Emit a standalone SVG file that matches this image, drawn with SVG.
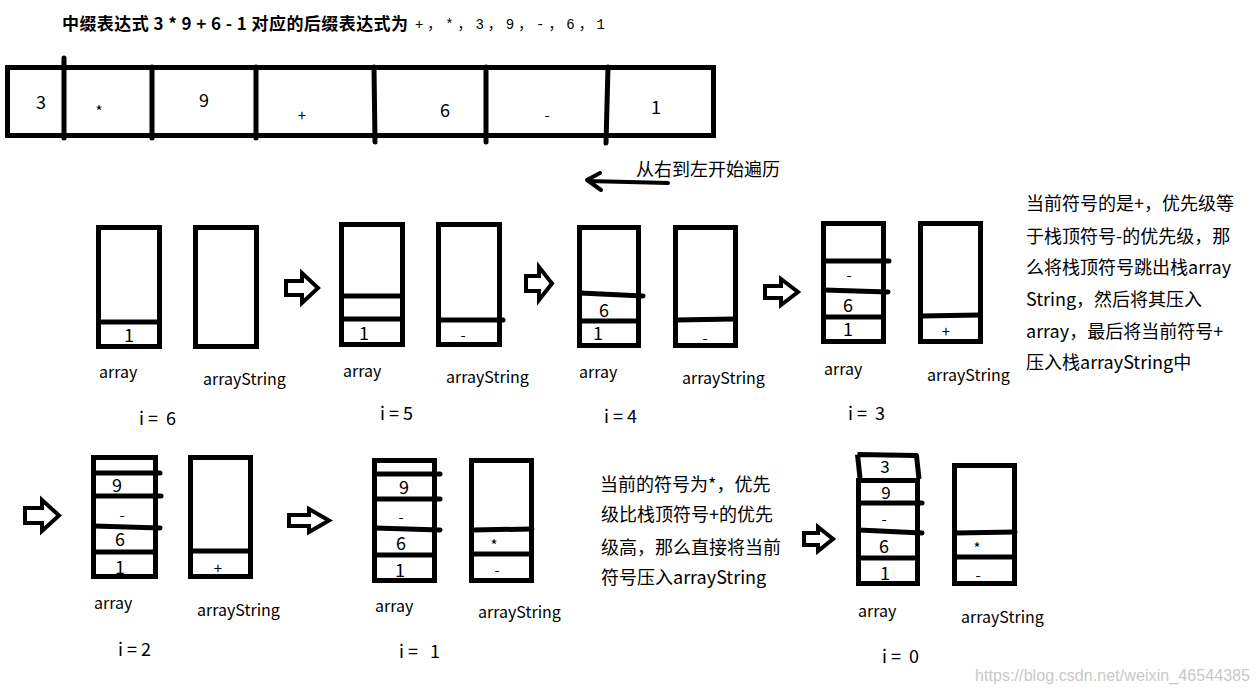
<svg xmlns="http://www.w3.org/2000/svg" width="1257" height="691" viewBox="0 0 1257 691">
<style>
.b{fill:none;stroke:#000;stroke-width:5}
.l{stroke:#000;stroke-width:5;stroke-linecap:round}
.ha{fill:#fff;stroke:#000;stroke-width:4;stroke-linejoin:miter}
text{font-family:"Noto Sans CJK SC","Microsoft YaHei",sans-serif;fill:#000}
.n{font-size:18px;text-anchor:middle}
.o{font-size:15px;text-anchor:middle}
.lb{font-size:16px}
.i{font-size:18px;white-space:pre}
.cn{font-size:18px}
</style>
<rect width="1257" height="691" fill="#fff"/>
<g id="title">
<text x="62" y="30" style="font-size:17px;font-weight:bold;white-space:pre" textLength="346" lengthAdjust="spacing">中缀表达式 3 * 9 + 6 - 1 对应的后缀表达式为</text>
<text x="415" y="29" style="font-size:14px;font-family:'Liberation Mono','Noto Sans CJK SC',monospace" textLength="190">+，*，3，9，-，6，1</text>
</g>
<g id="infix-array">
<rect class="b" x="7.5" y="67.5" width="706" height="68"/>
<line class="l" x1="64" y1="58" x2="64" y2="138"/>
<line class="l" x1="152" y1="67" x2="152" y2="138"/>
<line class="l" x1="256" y1="67" x2="256" y2="138"/>
<line class="l" x1="374" y1="67" x2="375" y2="142"/>
<line class="l" x1="486" y1="67" x2="486" y2="142"/>
<line class="l" x1="608" y1="67" x2="606" y2="143"/>
<text class="n" x="41" y="109">3</text>
<text class="o" x="99" y="117">*</text>
<text class="n" x="204" y="107">9</text>
<text class="o" x="302" y="121">+</text>
<text class="n" x="445" y="117">6</text>
<text class="o" x="547" y="121">-</text>
<text class="n" x="656" y="114">1</text>
</g>
<g id="direction-note">
<text class="cn" x="636" y="176">从右到左开始遍历</text>
</g>
<g id="connectors">
<path d="M668,183 L588,181 M600,173 L587,180 L601,190" fill="none" stroke="#000" stroke-width="4" stroke-linecap="round" stroke-linejoin="round"/>
<path class="ha" d="M286,281 H302 V273 L318,288 L302,303 V295 H286 Z"/>
<path class="ha" d="M526,276 H539 V267 L552,283.5 L539,300 V291 H526 Z"/>
<path class="ha" d="M765,286 H781 V279 L798,292 L781,305 V298 H765 Z"/>
<path class="ha" d="M25,508 H42 V500 L59,515.5 L42,531 V523 H25 Z"/>
<path class="ha" d="M289,515 H309 V509 L329,520.5 L309,532 V526 H289 Z"/>
<path class="ha" d="M804,533 H818 V527 L833,539 L818,551 V545 H804 Z"/>
</g>
<g id="step-i6">
<rect class="b" x="98.5" y="227.5" width="61" height="119"/>
<line class="l" x1="99" y1="322" x2="159" y2="322"/>
<text class="n" x="129" y="342">1</text>
<rect class="b" x="195.5" y="227.5" width="61" height="119"/>
<text class="lb" x="99" y="378">array</text>
<text class="lb" x="203" y="385">arrayString</text>
<text class="i" x="139" y="425">i =  6</text>
</g>
<g id="step-i5">
<rect class="b" x="341.5" y="224.5" width="61" height="120"/>
<line class="l" x1="342" y1="296" x2="402" y2="296"/>
<line class="l" x1="342" y1="319" x2="402" y2="319"/>
<text class="n" x="364" y="340">1</text>
<rect class="b" x="438.5" y="224.5" width="61" height="120"/>
<line class="l" x1="439" y1="320" x2="503" y2="320"/>
<text class="o" x="463" y="341">-</text>
<text class="lb" x="343" y="377">array</text>
<text class="lb" x="446" y="383">arrayString</text>
<text class="i" x="380" y="420">i = 5</text>
</g>
<g id="step-i4">
<rect class="b" x="579.5" y="227.5" width="59" height="118"/>
<line class="l" x1="580" y1="293" x2="643" y2="296"/>
<line class="l" x1="580" y1="321" x2="638" y2="321"/>
<text class="n" x="604" y="317">6</text>
<text class="n" x="598" y="340">1</text>
<rect class="b" x="675.5" y="227.5" width="60" height="118"/>
<line class="l" x1="676" y1="320" x2="735" y2="319"/>
<text class="o" x="705" y="344">-</text>
<text class="lb" x="579" y="378">array</text>
<text class="lb" x="682" y="384">arrayString</text>
<text class="i" x="604" y="423">i = 4</text>
</g>
<g id="step-i3">
<rect class="b" x="823.5" y="223.5" width="60" height="118"/>
<line class="l" x1="824" y1="261" x2="889" y2="261"/>
<line class="l" x1="824" y1="290" x2="888" y2="292"/>
<line class="l" x1="824" y1="317" x2="883" y2="317"/>
<text class="o" x="849" y="281">-</text>
<text class="n" x="848" y="312">6</text>
<text class="n" x="848" y="336">1</text>
<rect class="b" x="920.5" y="223.5" width="60" height="118"/>
<line class="l" x1="921" y1="316" x2="980" y2="315"/>
<text class="o" x="946" y="337">+</text>
<text class="lb" x="824" y="375">array</text>
<text class="lb" x="927" y="381">arrayString</text>
<text class="i" x="848" y="420">i =  3</text>
</g>
<g id="note-plus">
<text class="cn" x="1026" y="210">当前符号的是+，优先级等</text>
<text class="cn" x="1026" y="243">于栈顶符号-的优先级，那</text>
<text class="cn" x="1026" y="274">么将栈顶符号跳出栈array</text>
<text class="cn" x="1026" y="306">String，然后将其压入</text>
<text class="cn" x="1026" y="338">array，最后将当前符号+</text>
<text class="cn" x="1026" y="369">压入栈arrayString中</text>
</g>
<g id="step-i2">
<rect class="b" x="93.5" y="457.5" width="62" height="119"/>
<line class="l" x1="94" y1="473" x2="160" y2="473"/>
<line class="l" x1="94" y1="496" x2="161" y2="496"/>
<line class="l" x1="94" y1="526" x2="160" y2="528"/>
<line class="l" x1="94" y1="552" x2="155" y2="552"/>
<text class="n" x="117" y="492">9</text>
<text class="o" x="122" y="521">-</text>
<text class="n" x="120" y="546">6</text>
<text class="n" x="120" y="574">1</text>
<rect class="b" x="190.5" y="457.5" width="60" height="119"/>
<line class="l" x1="191" y1="551" x2="250" y2="551"/>
<text class="o" x="218" y="574">+</text>
<text class="lb" x="94" y="609">array</text>
<text class="lb" x="197" y="616">arrayString</text>
<text class="i" x="118" y="656">i = 2</text>
</g>
<g id="step-i1">
<rect class="b" x="374.5" y="460.5" width="60" height="120"/>
<line class="l" x1="375" y1="474" x2="440" y2="474"/>
<line class="l" x1="375" y1="499" x2="440" y2="499"/>
<line class="l" x1="375" y1="528" x2="440" y2="530"/>
<line class="l" x1="375" y1="555" x2="434" y2="555"/>
<text class="n" x="404" y="494">9</text>
<text class="o" x="401" y="523">-</text>
<text class="n" x="401" y="550">6</text>
<text class="n" x="400" y="577">1</text>
<rect class="b" x="471.5" y="460.5" width="60" height="120"/>
<line class="l" x1="472" y1="530" x2="532" y2="529"/>
<line class="l" x1="472" y1="554" x2="531" y2="554"/>
<text class="o" x="494" y="551">*</text>
<text class="o" x="497" y="576">-</text>
<text class="lb" x="375" y="612">array</text>
<text class="lb" x="478" y="618">arrayString</text>
<text class="i" x="399" y="658">i =   1</text>
</g>
<g id="note-star">
<text class="cn" x="600" y="491">当前的符号为*，优先</text>
<text class="cn" x="601" y="521">级比栈顶符号+的优先</text>
<text class="cn" x="601" y="554">级高，那么直接将当前</text>
<text class="cn" x="601" y="584">符号压入arrayString</text>
</g>
<g id="step-i0">
<path class="b" d="M857.5,454.5 L916.5,455.5 L919,479 M860,478 L857.5,454.5" stroke-linejoin="round"/>
<rect class="b" x="858.5" y="480.5" width="59" height="103"/>
<line class="l" x1="859" y1="503" x2="922" y2="503"/>
<line class="l" x1="859" y1="530" x2="922" y2="533"/>
<line class="l" x1="859" y1="558" x2="917" y2="558"/>
<text class="n" x="885" y="473" style="font-size:17px">3</text>
<text class="n" x="886" y="499" style="font-size:17px">9</text>
<text class="o" x="884" y="525">-</text>
<text class="n" x="884" y="553">6</text>
<text class="n" x="885" y="580">1</text>
<rect class="b" x="954.5" y="465.5" width="60" height="118"/>
<line class="l" x1="955" y1="533" x2="1015" y2="532"/>
<line class="l" x1="955" y1="557" x2="1014" y2="557"/>
<text class="o" x="977" y="554">*</text>
<text class="o" x="978" y="581">-</text>
<text class="lb" x="858" y="617">array</text>
<text class="lb" x="961" y="623">arrayString</text>
<text class="i" x="882" y="663">i =  0</text>
</g>
<g id="watermark">
<text x="975" y="681" style="font-family:'Liberation Sans',Arial,sans-serif;font-size:16px;fill:#c8c8c8" textLength="275">https://blog.csdn.net/weixin_46544385</text>
</g>
</svg>
